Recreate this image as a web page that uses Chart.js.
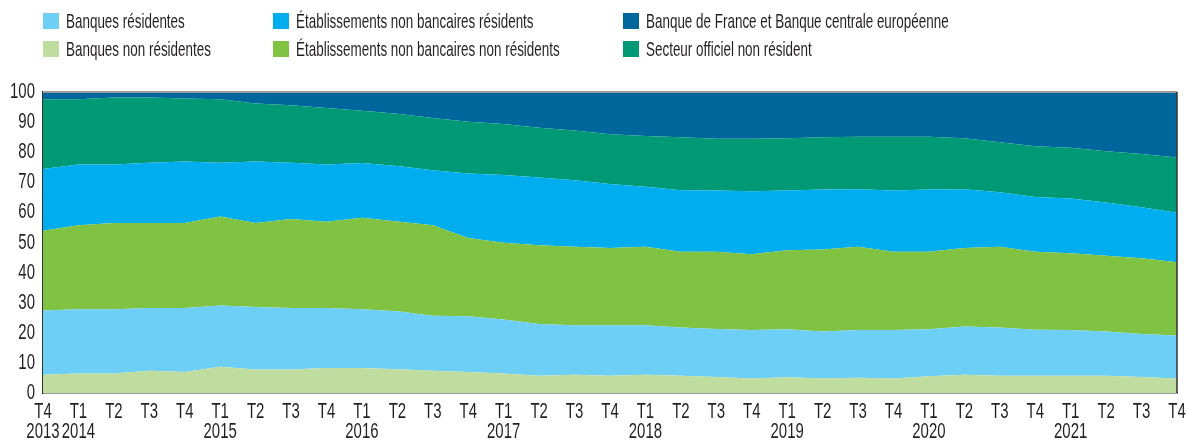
<!DOCTYPE html>
<html>
<head>
<meta charset="utf-8">
<script src="https://cdn.jsdelivr.net/npm/chart.js@4.4.1/dist/chart.umd.min.js"></script>
<style>
body { margin: 0; background: #fff; }
.wrap { position: relative; width: 1186px; height: 441px; }
canvas { position: absolute; left: 0; top: 0; }
.item { position: absolute; display: flex; align-items: center; height: 16px;
        font-family: "Liberation Sans", Arial, sans-serif;
        font-size: 21px; color: #231f20; white-space: nowrap; }
.sw { width: 16px; height: 16px; margin-right: 7px; flex: none; }
.txt { display: inline-block; transform: scaleX(0.64); transform-origin: left center; }
</style>
</head>
<body>
<div class="wrap">
  <canvas id="myChart" width="1186" height="441"></canvas>
  <div id="legend"></div>
</div>
<script>
// quarters T4 2013 -> T4 2021
const quarterLabels = ["T4","T1","T2","T3","T4","T1","T2","T3","T4","T1","T2","T3","T4","T1","T2","T3","T4",
                       "T1","T2","T3","T4","T1","T2","T3","T4","T1","T2","T3","T4","T1","T2","T3","T4"]
const yearLabels = ["2013","2014","","","","2015","","","","2016","","","","2017","","","",
                    "2018","","","","2019","","","","2020","","","","2021","","",""]

// shares in %, bottom of the stack first
const banquesNonResidentes = [6.1,6.5,6.5,7.4,7.0,8.7,7.8,7.8,8.3,8.3,7.9,7.4,7.0,6.5,5.7,6.1,5.7,
                              6.1,5.7,5.3,4.8,5.2,4.8,5.1,4.8,5.6,6.1,5.7,5.7,5.7,5.7,5.3,4.8]
const banquesResidentes = [21.3,21.3,21.3,20.8,21.2,20.4,20.8,20.4,19.9,19.5,19.3,18.3,18.5,17.9,17.2,16.4,16.8,
                           16.4,16.1,16.0,16.1,16.0,15.6,15.8,16.1,15.6,16.0,16.1,15.3,15.2,14.7,14.3,14.3]
const enbNonResidents = [26.5,27.9,28.7,28.3,28.3,29.5,27.9,29.6,28.7,30.4,29.8,30.0,26.0,25.5,26.2,26.1,25.7,
                         26.1,25.1,25.6,25.2,26.2,27.3,27.7,26.0,25.7,26.1,26.8,25.9,25.5,25.2,25.2,24.3]
const enbResidents = [20.5,20.2,19.4,20.0,20.4,17.9,20.4,18.7,19.0,18.2,18.4,18.3,21.4,22.5,22.5,22.1,21.2,
                      19.9,20.5,20.4,20.9,19.9,19.9,19.1,20.4,20.7,19.5,18.1,18.2,18.2,17.7,16.9,16.5]
const secteurOfficiel = [23.2,21.7,22.3,21.7,20.9,21.1,19.3,19.1,18.8,17.4,17.4,17.4,17.2,17.0,16.5,16.5,16.6,
                         16.9,17.6,17.2,17.5,17.3,17.4,17.4,17.8,17.5,16.9,16.6,16.9,16.9,17.0,17.7,18.3]
const bdfBce = [2.4,2.4,1.8,1.8,2.2,2.4,3.8,4.4,5.3,6.2,7.2,8.6,9.9,10.6,11.9,12.8,14.0,
                14.6,15.0,15.5,15.5,15.4,15.0,14.9,14.9,14.9,15.4,16.7,18.0,18.5,19.7,20.6,21.8]

const fontFamily = '"Liberation Sans", Arial, sans-serif'
const textColor = "#231f20"
const squeeze = 0.68   // the original uses a condensed face

let series = [
    { label: "Banques non résidentes", data: banquesNonResidentes, color: "#bfdd9e" },
    { label: "Banques résidentes", data: banquesResidentes, color: "#6dcff6" },
    { label: "Établissements non bancaires non résidents", data: enbNonResidents, color: "#80c241" },
    { label: "Établissements non bancaires résidents", data: enbResidents, color: "#00aeef" },
    { label: "Secteur officiel non résident", data: secteurOfficiel, color: "#009975" },
    { label: "Banque de France et Banque centrale européenne", data: bdfBce, color: "#00679c" }
]

// legend grid: [series index, left, top]
let legendPos = [[1, 43, 13], [3, 273, 13], [5, 623, 13], [0, 43, 41], [2, 273, 41], [4, 623, 41]]
let legend = document.getElementById("legend")
legendPos.forEach(([i, left, top]) => {
    let el = document.createElement("div")
    el.className = "item"
    el.style.left = left + "px"
    el.style.top = top + "px"
    el.innerHTML = '<span class="sw" style="background:' + series[i].color + '"></span><span class="txt">' + series[i].label + '</span>'
    legend.appendChild(el)
})

// narrow the tick labels around their anchor point
const condensePlugin = {
    id: "condense",
    beforeDraw(chart) {
        let ctx = chart.ctx
        if (ctx._condensed) return
        let orig = ctx.fillText
        ctx.fillText = function (text, x, y, maxWidth) {
            this.save()
            this.translate(x, y)
            this.scale(squeeze, 1)
            orig.call(this, text, 0, 0, maxWidth)
            this.restore()
        }
        ctx._condensed = true
    }
}

// frame on top and right of the plot
const framePlugin = {
    id: "frame",
    afterDraw(chart) {
        let { ctx, chartArea: a } = chart
        ctx.save()
        ctx.strokeStyle = "#9a9a9a"
        ctx.lineWidth = 2
        ctx.beginPath()
        ctx.moveTo(a.left, a.top); ctx.lineTo(a.right, a.top)
        ctx.stroke()
        ctx.strokeStyle = "#333"
        ctx.lineWidth = 1.5
        ctx.beginPath()
        ctx.moveTo(a.right, a.top); ctx.lineTo(a.right, a.bottom)
        ctx.stroke()
        ctx.restore()
    }
}

new Chart(document.getElementById("myChart"), {
    type: "line",
    data: {
        labels: quarterLabels.map((q, i) => [q, yearLabels[i]]),
        datasets: series.map((s, i) => ({
            label: s.label,
            data: s.data,
            backgroundColor: s.color,
            borderColor: s.color,
            borderWidth: 0,
            pointRadius: 0,
            tension: 0,
            fill: i == 0 ? "origin" : "-1"
        }))
    },
    options: {
        responsive: false,
        animation: false,
        layout: { padding: { top: 92, right: 9, left: 0, bottom: 0 } },
        plugins: { legend: { display: false }, tooltip: { enabled: false } },
        scales: {
            x: {
                offset: false,
                grid: { display: false, drawTicks: false },
                border: { color: "#333", width: 1.5 },
                ticks: {
                    autoSkip: false, maxRotation: 0, padding: 8, color: textColor,
                    font: { family: fontFamily, size: 22, lineHeight: 0.95 }
                },
                afterFit(scale) {
                    scale.height = 48
                    scale.paddingLeft = 0
                    scale.paddingRight = 0
                }
            },
            y: {
                stacked: true,
                min: 0,
                max: 100,
                grid: { display: false, drawTicks: false },
                border: { color: "#333", width: 1.5 },
                ticks: {
                    stepSize: 10, padding: 8, color: textColor,
                    font: { family: fontFamily, size: 22 }
                },
                afterFit(scale) {
                    scale.width = 43
                    scale.paddingTop = 0
                    scale.paddingBottom = 0
                }
            }
        }
    },
    plugins: [condensePlugin, framePlugin]
})
</script>
</body>
</html>
